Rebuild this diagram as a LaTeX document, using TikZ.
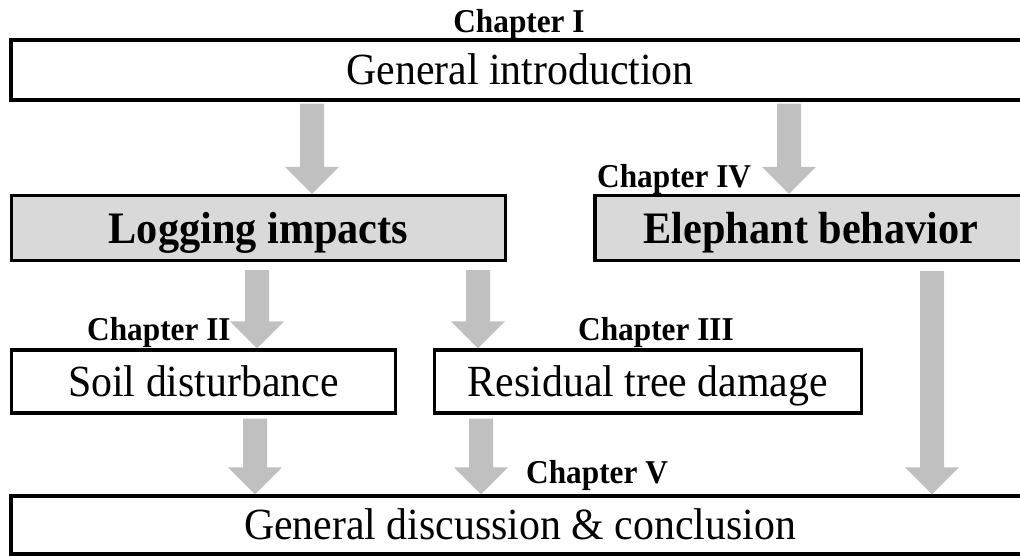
\documentclass[tikz,border=0pt]{standalone}
\usepackage{fontspec}
\setmainfont[FakeStretch=0.94]{Liberation Serif}
\usetikzlibrary{calc}
\definecolor{boxgray}{HTML}{D9D9D9}
\definecolor{arrowgray}{HTML}{C0C0C0}
\newcommand\grayarrow[2]{%
  \fill[arrowgray] ($(#1)+(-12,0)$) -- ($(#2)+(-12,-27)$) -- ($(#2)+(-27,-27)$)
    -- (#2) -- ($(#2)+(27,-27)$) -- ($(#2)+(12,-27)$) -- ($(#1)+(12,0)$) -- cycle;}
\begin{document}
\begin{tikzpicture}[x=1pt,y=-1pt,
  box/.style={draw=black, line width=3.3pt, fill=white, inner sep=0pt,
    font=\fontsize{44.5}{50}\selectfont, text height=29.5pt, text depth=0pt},
  graybox/.style={box, fill=boxgray, font=\fontsize{45}{50}\selectfont\bfseries, text height=30.4pt},
  chap/.style={font=\fontsize{33.3}{36}\selectfont\bfseries, inner sep=0pt}]
\useasboundingbox (0,0) rectangle (1020,556);
\clip (0,0) rectangle (1020,556);
% boxes
\node[box, minimum width=1018pt, minimum height=60pt] (intro) at (520,70) {General introduction};
\node[graybox, minimum width=494pt, minimum height=65pt] (logging) at (258.5,228) {Logging impacts};
\node[graybox, minimum width=432pt, minimum height=65pt] (elephant) at (811,228) {Elephant behavior};
\node[box, minimum width=384pt, minimum height=63pt] (soil) at (203.5,381.5) {Soil disturbance};
\node[box, minimum width=427pt, minimum height=63pt] (residual) at (648,381.5) {Residual tree damage};
\node[box, minimum width=1018pt, minimum height=58pt] (concl) at (520,525) {General discussion \& conclusion};
% chapter labels
\node[chap, anchor=base] (c1) at (519,33) {Chapter I};
\node[chap, anchor=base west] (c4) at (597,188) {Chapter IV};
\node[chap, anchor=base west] (c2) at (87,340) {Chapter II};
\node[chap, anchor=base west] (c3) at (578,340) {Chapter III};
\node[chap, anchor=base west] (c5) at (526,483) {Chapter V};
% arrow columns
\coordinate (x1) at (312,0);
\coordinate (x2) at (789,0);
\coordinate (x3) at (257,0);
\coordinate (x4) at (478,0);
\coordinate (x5) at (932,0);
\coordinate (x6) at (255,0);
\coordinate (x7) at (481,0);
\path (intro.south -| x1) ++(0,2) coordinate (s1);
\path (logging.north -| x1) coordinate (t1);
\path (intro.south -| x2) ++(0,2) coordinate (s2);
\path (elephant.north -| x2) coordinate (t2);
\path (logging.south -| x3) ++(0,8) coordinate (s3);
\path (soil.north -| x3) coordinate (t3);
\path (logging.south -| x4) ++(0,8) coordinate (s4);
\path (residual.north -| x4) coordinate (t4);
\path (elephant.south -| x5) ++(0,9) coordinate (s5);
\path (concl.north -| x5) coordinate (t5);
\path (soil.south -| x6) ++(0,4) coordinate (s6);
\path (concl.north -| x6) coordinate (t6);
\path (residual.south -| x7) ++(0,4) coordinate (s7);
\path (concl.north -| x7) coordinate (t7);
\grayarrow{s1}{t1}
\grayarrow{s2}{t2}
\grayarrow{s3}{t3}
\grayarrow{s4}{t4}
\grayarrow{s5}{t5}
\grayarrow{s6}{t6}
\grayarrow{s7}{t7}
\end{tikzpicture}
\end{document}
